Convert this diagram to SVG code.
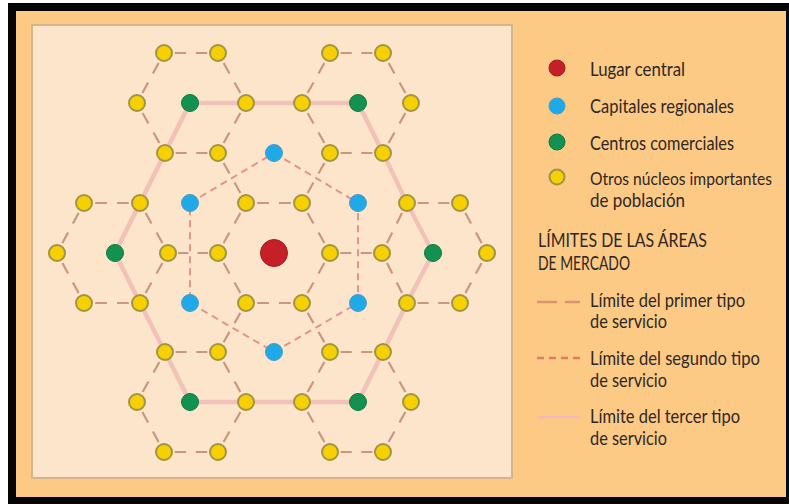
<svg xmlns="http://www.w3.org/2000/svg" width="789" height="504" viewBox="0 0 789 504">
<style>
.t1{fill:none;stroke:#c9977e;stroke-width:2.2;stroke-dasharray:21 18 21 40;stroke-dashoffset:80}
.t2{fill:none;stroke:#e3938a;stroke-width:2;stroke-dasharray:7 5}
.t3{fill:none;stroke:#f2c2b8;stroke-width:4.5;stroke-linejoin:round}
.y{fill:#f6d000;stroke:#a39445;stroke-width:2}
.b{fill:#1fa9e6;stroke:#4a9cc8;stroke-width:1}
.g{fill:#139150;stroke:#0f7a42;stroke-width:1}
.r{fill:#c51f28;stroke:#a51a22;stroke-width:1}
.lt{font-family:Lato,"Open Sans","Liberation Sans",sans-serif;font-size:19px;fill:#2e2722}
</style>
<rect x="0" y="0" width="789" height="504" fill="#ffffff"/>
<rect x="8" y="3" width="781" height="501" fill="#050505"/>
<rect x="16" y="11" width="770" height="486" fill="#fdca86"/>
<rect x="32" y="25" width="480" height="453" fill="#fde5cc" stroke="#d5b68c" stroke-width="2"/>

<g id="connectors">
<g id="first-type">
<path class="t1" pathLength="100" d="M164 53 L218 53"/>
<path class="t1" pathLength="100" d="M218 53 L246 103"/>
<path class="t1" pathLength="100" d="M246 103 L218 153"/>
<path class="t1" pathLength="100" d="M218 153 L165 153"/>
<path class="t1" pathLength="100" d="M165 153 L137 103"/>
<path class="t1" pathLength="100" d="M137 103 L164 53"/>
<path class="t1" pathLength="100" d="M330 53 L383 53"/>
<path class="t1" pathLength="100" d="M383 53 L411 103"/>
<path class="t1" pathLength="100" d="M411 103 L383 153"/>
<path class="t1" pathLength="100" d="M383 153 L330 153"/>
<path class="t1" pathLength="100" d="M330 153 L302 103"/>
<path class="t1" pathLength="100" d="M302 103 L330 53"/>
<path class="t1" pathLength="100" d="M330 153 L302 203"/>
<path class="t1" pathLength="100" d="M218 153 L246 203"/>
<path class="t1" pathLength="100" d="M246 203 L302 203"/>
<path class="t1" pathLength="100" d="M302 203 L330 253"/>
<path class="t1" pathLength="100" d="M330 253 L302 303"/>
<path class="t1" pathLength="100" d="M302 303 L246 303"/>
<path class="t1" pathLength="100" d="M246 303 L218 253"/>
<path class="t1" pathLength="100" d="M218 253 L246 203"/>
<path class="t1" pathLength="100" d="M84 203 L140 203"/>
<path class="t1" pathLength="100" d="M140 203 L168 253"/>
<path class="t1" pathLength="100" d="M168 253 L140 303"/>
<path class="t1" pathLength="100" d="M140 303 L84 303"/>
<path class="t1" pathLength="100" d="M84 303 L57 253"/>
<path class="t1" pathLength="100" d="M57 253 L84 203"/>
<path class="t1" pathLength="100" d="M218 253 L168 253"/>
<path class="t1" pathLength="100" d="M407 203 L460 203"/>
<path class="t1" pathLength="100" d="M460 203 L487 253"/>
<path class="t1" pathLength="100" d="M487 253 L460 303"/>
<path class="t1" pathLength="100" d="M460 303 L407 303"/>
<path class="t1" pathLength="100" d="M407 303 L382 253"/>
<path class="t1" pathLength="100" d="M382 253 L407 203"/>
<path class="t1" pathLength="100" d="M382 253 L330 253"/>
<path class="t1" pathLength="100" d="M246 303 L218 352"/>
<path class="t1" pathLength="100" d="M302 303 L330 352"/>
<path class="t1" pathLength="100" d="M165 352 L218 352"/>
<path class="t1" pathLength="100" d="M218 352 L246 402"/>
<path class="t1" pathLength="100" d="M246 402 L218 452"/>
<path class="t1" pathLength="100" d="M218 452 L164 452"/>
<path class="t1" pathLength="100" d="M164 452 L137 402"/>
<path class="t1" pathLength="100" d="M137 402 L165 352"/>
<path class="t1" pathLength="100" d="M330 352 L383 352"/>
<path class="t1" pathLength="100" d="M383 352 L411 402"/>
<path class="t1" pathLength="100" d="M411 402 L383 452"/>
<path class="t1" pathLength="100" d="M383 452 L330 452"/>
<path class="t1" pathLength="100" d="M330 452 L302 402"/>
<path class="t1" pathLength="100" d="M302 402 L330 352"/>
</g>
<path id="second-type" class="t2" d="M274 153 L358 203 L358 303 L274 352 L190 303 L190 203 Z"/>
<path id="third-type" class="t3" d="M190 103 L246 103 L302 103 L358 103 L383 153 L407 203 L433 253 L407 303 L383 352 L358 402 L302 402 L246 402 L190 402 L165 352 L140 303 L115 253 L140 203 L165 153 Z"/>
</g>

<g id="nodes">
<g id="central"><circle class="r" cx="274" cy="253" r="13.5"/></g>
<g id="regional">
<circle class="b" cx="274" cy="153" r="8.5"/>
<circle class="b" cx="358" cy="203" r="8.5"/>
<circle class="b" cx="358" cy="303" r="8.5"/>
<circle class="b" cx="274" cy="352" r="8.5"/>
<circle class="b" cx="190" cy="303" r="8.5"/>
<circle class="b" cx="190" cy="203" r="8.5"/>
</g>
<g id="commercial">
<circle class="g" cx="190" cy="103" r="8.5"/>
<circle class="g" cx="358" cy="103" r="8.5"/>
<circle class="g" cx="433" cy="253" r="8.5"/>
<circle class="g" cx="358" cy="402" r="8.5"/>
<circle class="g" cx="190" cy="402" r="8.5"/>
<circle class="g" cx="115" cy="253" r="8.5"/>
</g>
<g id="other">
<circle class="y" cx="164" cy="53" r="8"/><circle class="y" cx="218" cy="53" r="8"/><circle class="y" cx="330" cy="53" r="8"/><circle class="y" cx="383" cy="53" r="8"/>
<circle class="y" cx="137" cy="103" r="8"/><circle class="y" cx="246" cy="103" r="8"/><circle class="y" cx="302" cy="103" r="8"/><circle class="y" cx="411" cy="103" r="8"/>
<circle class="y" cx="165" cy="153" r="8"/><circle class="y" cx="218" cy="153" r="8"/><circle class="y" cx="330" cy="153" r="8"/><circle class="y" cx="383" cy="153" r="8"/>
<circle class="y" cx="84" cy="203" r="8"/><circle class="y" cx="140" cy="203" r="8"/><circle class="y" cx="246" cy="203" r="8"/><circle class="y" cx="302" cy="203" r="8"/><circle class="y" cx="407" cy="203" r="8"/><circle class="y" cx="460" cy="203" r="8"/>
<circle class="y" cx="57" cy="253" r="8"/><circle class="y" cx="168" cy="253" r="8"/><circle class="y" cx="218" cy="253" r="8"/><circle class="y" cx="330" cy="253" r="8"/><circle class="y" cx="382" cy="253" r="8"/><circle class="y" cx="487" cy="253" r="8"/>
<circle class="y" cx="84" cy="303" r="8"/><circle class="y" cx="140" cy="303" r="8"/><circle class="y" cx="246" cy="303" r="8"/><circle class="y" cx="302" cy="303" r="8"/><circle class="y" cx="407" cy="303" r="8"/><circle class="y" cx="460" cy="303" r="8"/>
<circle class="y" cx="165" cy="352" r="8"/><circle class="y" cx="218" cy="352" r="8"/><circle class="y" cx="330" cy="352" r="8"/><circle class="y" cx="383" cy="352" r="8"/>
<circle class="y" cx="137" cy="402" r="8"/><circle class="y" cx="246" cy="402" r="8"/><circle class="y" cx="302" cy="402" r="8"/><circle class="y" cx="411" cy="402" r="8"/>
<circle class="y" cx="164" cy="452" r="8"/><circle class="y" cx="218" cy="452" r="8"/><circle class="y" cx="330" cy="452" r="8"/><circle class="y" cx="383" cy="452" r="8"/>
</g>
</g>

<g id="legend">
<circle class="r" cx="557" cy="68" r="8"/>
<text class="lt" x="590" y="76" textLength="95" lengthAdjust="spacingAndGlyphs">Lugar central</text>
<circle class="b" cx="557" cy="106" r="8"/>
<text class="lt" x="590" y="113" textLength="144" lengthAdjust="spacingAndGlyphs">Capitales regionales</text>
<circle class="g" cx="557" cy="142" r="8"/>
<text class="lt" x="590" y="150" textLength="144" lengthAdjust="spacingAndGlyphs">Centros comerciales</text>
<circle class="y" cx="557" cy="177" r="7.5"/>
<text class="lt" x="590" y="185" font-size="17" style="font-size:17px" textLength="182" lengthAdjust="spacingAndGlyphs">Otros núcleos importantes</text>
<text class="lt" x="590" y="207" textLength="95" lengthAdjust="spacingAndGlyphs">de población</text>
<text class="lt" x="538" y="247" textLength="169" lengthAdjust="spacingAndGlyphs">LÍMITES DE LAS ÁREAS</text>
<text class="lt" x="538" y="270" textLength="92" lengthAdjust="spacingAndGlyphs">DE MERCADO</text>
<path d="M537 302 L580 302" fill="none" stroke="#dc9470" stroke-width="2.5" stroke-dasharray="20 8"/>
<text class="lt" x="590" y="307" textLength="155" lengthAdjust="spacingAndGlyphs">Límite del primer tipo</text>
<text class="lt" x="590" y="328" textLength="77" lengthAdjust="spacingAndGlyphs">de servicio</text>
<path d="M537 358 L580 358" fill="none" stroke="#e47a66" stroke-width="2.5" stroke-dasharray="7 5"/>
<text class="lt" x="590" y="365" textLength="170" lengthAdjust="spacingAndGlyphs">Límite del segundo tipo</text>
<text class="lt" x="590" y="387" textLength="77" lengthAdjust="spacingAndGlyphs">de servicio</text>
<path d="M537 417 L580 417" fill="none" stroke="#f5b7b8" stroke-width="2.5"/>
<text class="lt" x="590" y="423" textLength="150" lengthAdjust="spacingAndGlyphs">Límite del tercer tipo</text>
<text class="lt" x="590" y="445" textLength="77" lengthAdjust="spacingAndGlyphs">de servicio</text>
</g>
</svg>
